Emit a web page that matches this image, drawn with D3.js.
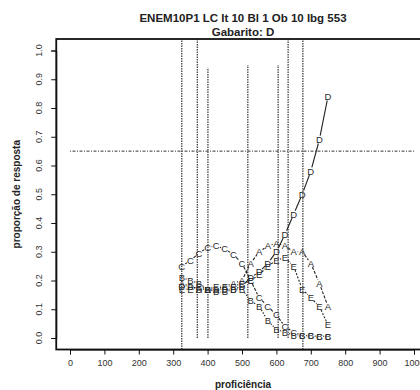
<!DOCTYPE html>
<html>
<head>
<meta charset="utf-8">
<script src="https://cdn.jsdelivr.net/npm/d3@7"></script>
<style>
  body { margin: 0; background: #fff; }
  svg { font-family: "Liberation Sans", Arial, sans-serif; }
</style>
</head>
<body>
<div id="chart"></div>
<script>
// proficiency points where the item curves were estimated
const prof = [325, 350, 375, 400, 425, 450, 475, 500, 525, 550, 575, 600, 625, 650, 675, 700, 725, 750];

// proportion choosing each option
const optA = [0.19, 0.18, 0.17, 0.17, 0.17, 0.18, 0.19, 0.20, 0.26, 0.30, 0.32, 0.33, 0.32, 0.30, 0.30, 0.26, 0.19, 0.11];
const optB = [0.21, 0.20, 0.19, 0.17, 0.16, 0.16, 0.17, 0.17, 0.13, 0.11, 0.06, 0.03, 0.02, 0.01, 0.01, 0.007, 0.006, 0.006];
const optC = [0.25, 0.27, 0.295, 0.315, 0.32, 0.31, 0.29, 0.26, 0.20, 0.14, 0.11, 0.08, 0.04, 0.02, 0.01, 0.007, 0.006, 0.006];
const optD = [0.18, 0.18, 0.17, 0.17, 0.17, 0.17, 0.17, 0.18, 0.21, 0.23, 0.26, 0.30, 0.36, 0.43, 0.50, 0.58, 0.69, 0.84];
const optE = [0.17, 0.17, 0.18, 0.17, 0.18, 0.18, 0.18, 0.19, 0.20, 0.22, 0.25, 0.27, 0.28, 0.25, 0.17, 0.14, 0.11, 0.045];

const options = ["A", "B", "C", "D", "E"];
const optValues = [optA, optB, optC, optD, optE];

// vertical reference lines (proficiency, bottom and top in proportion units)
const vLinePos = [325, 370, 401, 517, 605, 634, 677];
const vLineBottom = [-0.04, 0, 0, 0, 0, 0, -0.04];
const vLineTop = [1.04, 1.04, 0.94, 0.95, 0.95, 1.04, 1.04];
const hLine = 0.65;

const xTicks = [0, 100, 200, 300, 400, 500, 600, 700, 800, 900, 1000];
const yTicks = [0, 0.1, 0.2, 0.3, 0.4, 0.5, 0.6, 0.7, 0.8, 0.9, 1.0];

const width = 420;
const height = 390;

const x = d3.scaleLinear().domain([0, 1000]).range([70, 414]);
const y = d3.scaleLinear().domain([0, 1]).range([338, 50.5]);

const svg = d3.select("#chart").append("svg")
    .attr("width", width)
    .attr("height", height);

const ink = "#222";

// title
svg.append("text")
    .attr("x", 243).attr("y", 22)
    .attr("text-anchor", "middle")
    .attr("font-size", 11.5).attr("font-weight", "bold")
    .attr("fill", ink)
    .text("ENEM10P1 LC It 10 Bl 1 Ob 10 Ibg 553");
svg.append("text")
    .attr("x", 243).attr("y", 35.5)
    .attr("text-anchor", "middle")
    .attr("font-size", 11.5).attr("font-weight", "bold")
    .attr("fill", ink)
    .text("Gabarito: D");

// reference lines
svg.append("g")
    .selectAll("line")
    .data(vLinePos)
    .join("line")
    .attr("x1", d => x(d)).attr("x2", d => x(d))
    .attr("y1", (d, i) => y(vLineBottom[i]))
    .attr("y2", (d, i) => y(vLineTop[i]))
    .attr("stroke", "#222")
    .attr("stroke-width", 1.1)
    .attr("stroke-dasharray", "1.5,1");

svg.append("line")
    .attr("x1", x(0)).attr("x2", x(1000))
    .attr("y1", y(hLine)).attr("y2", y(hLine))
    .attr("stroke", "#333")
    .attr("stroke-width", 1)
    .attr("stroke-dasharray", "1,1.5,3,1.5");

// curves: segments with gaps around the letters (like type = "b")
const dashes = { A: "3,1.5", B: "1.5,1.5", C: "3,1.5", D: null, E: "2,1.5" };
const gap = 4;

options.forEach((opt, k) => {
    const vals = optValues[k];
    const pts = prof.map((p, i) => [x(p), y(vals[i])]);
    const segs = d3.pairs(pts).map(([a, b]) => {
        const dx = b[0] - a[0], dy = b[1] - a[1];
        const len = Math.hypot(dx, dy);
        if (len <= 2 * gap) return null;
        const ux = dx / len, uy = dy / len;
        return [a[0] + ux * gap, a[1] + uy * gap, b[0] - ux * gap, b[1] - uy * gap];
    }).filter(s => s);

    const g = svg.append("g");
    g.selectAll("line")
        .data(segs)
        .join("line")
        .attr("x1", s => s[0]).attr("y1", s => s[1])
        .attr("x2", s => s[2]).attr("y2", s => s[3])
        .attr("stroke", "#222")
        .attr("stroke-width", 1.1)
        .attr("stroke-dasharray", dashes[opt]);

    g.selectAll("text")
        .data(pts)
        .join("text")
        .attr("x", d => d[0]).attr("y", d => d[1] + 3.4)
        .attr("text-anchor", "middle")
        .attr("font-size", 9.5)
        .attr("fill", "#2a2a2a")
        .text(opt);
});

// box
svg.append("rect")
    .attr("x", x(-40)).attr("y", y(1.04))
    .attr("width", x(1040) - x(-40))
    .attr("height", y(-0.04) - y(1.04))
    .attr("fill", "none")
    .attr("stroke", "#111")
    .attr("stroke-width", 1.8);

// x axis
const xAxis = svg.append("g")
    .attr("transform", `translate(0,${y(-0.04)})`)
    .call(d3.axisBottom(x).tickValues(xTicks).tickSize(5).tickPadding(5).tickFormat(d3.format("d")));
xAxis.select(".domain").attr("stroke", "#111");
xAxis.selectAll(".tick line").attr("stroke", "#111");
xAxis.selectAll("text").attr("font-size", 9).attr("fill", "#333").attr("font-family", "Liberation Sans, Arial, sans-serif");

// y axis, labels rotated as R draws them
const yAxis = svg.append("g")
    .attr("transform", `translate(${x(-40)},0)`)
    .call(d3.axisLeft(y).tickValues(yTicks).tickSize(5).tickFormat(""));
yAxis.select(".domain").attr("stroke", "#111");
yAxis.selectAll(".tick line").attr("stroke", "#111");

svg.append("g")
    .selectAll("text")
    .data(yTicks)
    .join("text")
    .attr("transform", d => `translate(42,${y(d)}) rotate(-90)`)
    .attr("text-anchor", "middle")
    .attr("font-size", 9)
    .attr("fill", "#333")
    .text(d => d3.format(".1f")(d));

// axis titles
svg.append("text")
    .attr("transform", `translate(20,${(y(-0.04) + y(1.04)) / 2}) rotate(-90)`)
    .attr("text-anchor", "middle")
    .attr("font-size", 10)
    .attr("font-weight", "bold")
    .attr("fill", ink)
    .text("proporção de resposta");

svg.append("text")
    .attr("x", 243).attr("y", 388)
    .attr("text-anchor", "middle")
    .attr("font-size", 10)
    .attr("font-weight", "bold")
    .attr("fill", ink)
    .text("proficiência");
</script>
</body>
</html>
